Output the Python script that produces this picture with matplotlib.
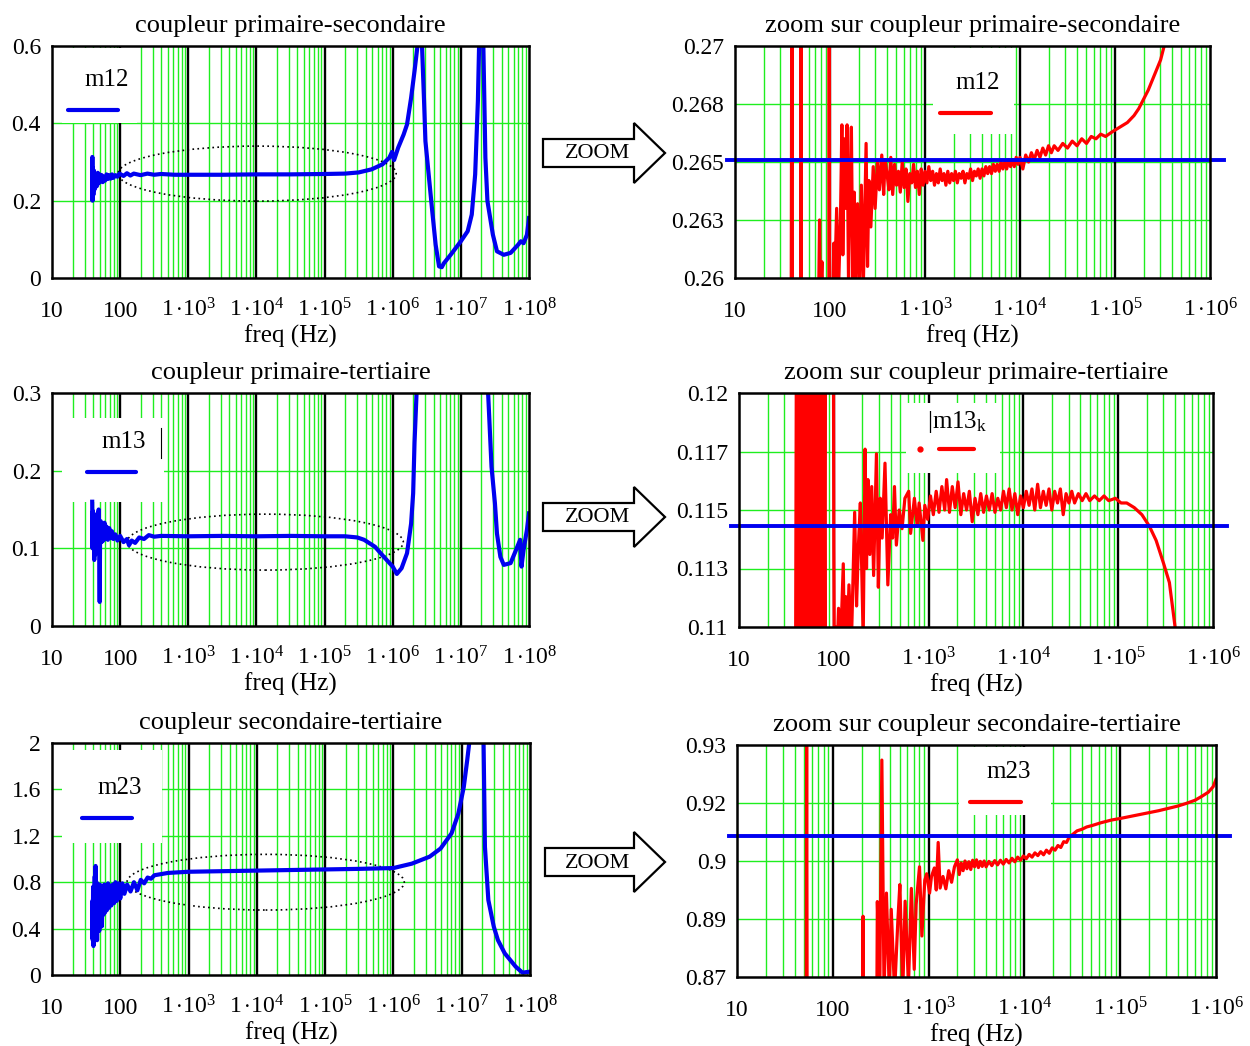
import matplotlib
matplotlib.use("Agg")
import matplotlib.pyplot as plt
from matplotlib.patches import Ellipse, Rectangle, Polygon
from matplotlib.ticker import NullLocator
import numpy as np

plt.rcParams["font.family"] = ["Liberation Serif", "DejaVu Serif"]
plt.rcParams["mathtext.fontset"] = "custom"
plt.rcParams["mathtext.rm"] = "Liberation Serif"
plt.rcParams["mathtext.it"] = "Liberation Serif:italic"

GREEN = "#1fee1f"
BLUE = "#0000f0"
RED = "#ff0000"

# ---- data : log10(freq) and coupling values -------------------------------
# m12, full range (left)
m12_logf = [1.590, 1.592, 1.595, 1.600, 1.607, 1.615, 1.622, 1.630, 1.640, 1.650,
            1.660, 1.672, 1.685, 1.700, 1.715, 1.730, 1.745, 1.760, 1.780, 1.800,
            1.820, 1.840, 1.860, 1.880, 1.900, 1.930, 1.960, 1.990, 2.050, 2.100,
            2.150, 2.200, 2.300, 2.400, 2.500, 2.600, 2.800, 3.000, 3.500, 4.000,
            4.500, 5.000, 5.300, 5.500, 5.690, 5.850, 5.950, 5.990, 6.020, 6.080,
            6.160, 6.210, 6.270, 6.320, 6.370, 6.400, 6.430, 6.460, 6.480, 6.580,
            6.630, 6.680, 6.720, 6.750, 6.850, 7.000, 7.100, 7.160, 7.210, 7.250,
            7.270, 7.290, 7.310, 7.330, 7.360, 7.390, 7.470, 7.530, 7.630, 7.730,
            7.840, 7.880, 7.920, 7.970, 8.000]
m12 = [0.205, 0.313, 0.200, 0.285, 0.215, 0.278, 0.228, 0.270, 0.235, 0.262,
       0.238, 0.272, 0.245, 0.268, 0.250, 0.266, 0.248, 0.262, 0.252, 0.268,
       0.256, 0.266, 0.257, 0.268, 0.259, 0.266, 0.262, 0.270, 0.264, 0.271,
       0.265, 0.270, 0.266, 0.270, 0.267, 0.269, 0.267, 0.267, 0.267, 0.268,
       0.268, 0.269, 0.270, 0.273, 0.281, 0.294, 0.311, 0.326, 0.305, 0.337,
       0.371, 0.397, 0.466, 0.535, 0.610, 0.760, 0.600, 0.458, 0.354, 0.173,
       0.086, 0.030, 0.028, 0.038, 0.060, 0.095, 0.121, 0.164, 0.268, 0.458,
       0.620, 0.900, 0.880, 0.600, 0.311, 0.199, 0.112, 0.069, 0.060, 0.065,
       0.086, 0.095, 0.090, 0.112, 0.155]

# m13, full range (left)
m13_logf = [1.590, 1.595, 1.600, 1.606, 1.612, 1.620, 1.628, 1.636, 1.645, 1.655,
            1.665, 1.675, 1.685, 1.695, 1.700, 1.705, 1.715, 1.728, 1.740, 1.755,
            1.770, 1.785, 1.800, 1.820, 1.840, 1.860, 1.880, 1.900, 1.930, 1.960,
            2.000, 2.050, 2.100, 2.130, 2.170, 2.220, 2.280, 2.350, 2.420, 2.500,
            2.600, 3.000, 3.500, 4.000, 4.500, 5.000, 5.300, 5.480, 5.580, 5.740,
            5.870, 6.000, 6.060, 6.130, 6.210, 6.270, 6.300, 6.320, 6.350, 6.400,
            6.500, 7.300, 7.380, 7.400, 7.450, 7.500, 7.530, 7.580, 7.630, 7.730,
            7.810, 7.870, 7.890, 7.920, 7.970, 8.000]
m13 = [0.160, 0.100, 0.148, 0.105, 0.140, 0.085, 0.130, 0.092, 0.120, 0.100,
       0.145, 0.102, 0.150, 0.095, 0.031, 0.110, 0.135, 0.108, 0.130, 0.110,
       0.133, 0.112, 0.128, 0.111, 0.126, 0.113, 0.122, 0.112, 0.118, 0.110,
       0.116, 0.108, 0.112, 0.104, 0.110, 0.107, 0.114, 0.112, 0.117, 0.115,
       0.116, 0.1155, 0.116, 0.1155, 0.116, 0.1155, 0.1155, 0.114, 0.111, 0.102,
       0.089, 0.0765, 0.067, 0.0744, 0.0937, 0.132, 0.171, 0.236, 0.300, 0.450,
       0.600, 0.600, 0.400, 0.300, 0.205, 0.158, 0.119, 0.089, 0.0787, 0.081,
       0.098, 0.111, 0.0765, 0.098, 0.124, 0.145]

# m23, full range (left)
m23_logf = [1.590, 1.593, 1.597, 1.602, 1.607, 1.613, 1.620, 1.626, 1.632, 1.638,
            1.645, 1.652, 1.660, 1.668, 1.676, 1.684, 1.692, 1.700, 1.710, 1.720,
            1.730, 1.742, 1.754, 1.766, 1.778, 1.790, 1.805, 1.820, 1.835, 1.850,
            1.870, 1.890, 1.910, 1.930, 1.950, 1.975, 2.000, 2.030, 2.060, 2.100,
            2.150, 2.200, 2.250, 2.300, 2.350, 2.400, 2.450, 2.500, 2.600, 2.700,
            2.850, 3.000, 3.500, 4.000, 4.500, 5.000, 5.500, 6.000, 6.270, 6.530,
            6.690, 6.850, 6.950, 7.030, 7.080, 7.110, 7.150, 7.300, 7.320, 7.340,
            7.390, 7.470, 7.530, 7.630, 7.790, 7.890, 7.950, 8.000]
m23 = [0.330, 0.640, 0.300, 0.760, 0.250, 0.720, 0.400, 0.850, 0.330, 0.940,
       0.420, 0.800, 0.300, 0.760, 0.450, 0.720, 0.380, 0.780, 0.500, 0.740,
       0.420, 0.760, 0.520, 0.780, 0.540, 0.760, 0.560, 0.790, 0.580, 0.770,
       0.600, 0.780, 0.620, 0.800, 0.640, 0.790, 0.660, 0.790, 0.700, 0.780,
       0.720, 0.800, 0.730, 0.820, 0.790, 0.840, 0.830, 0.860, 0.870, 0.880,
       0.885, 0.890, 0.895, 0.900, 0.905, 0.910, 0.915, 0.922, 0.960, 1.020,
       1.090, 1.220, 1.390, 1.620, 1.850, 2.000, 2.300, 2.300, 2.000, 1.105,
       0.646, 0.416, 0.301, 0.187, 0.072, 0.020, 0.025, 0.029]

# m12, detail up to 1 MHz (right)
m12z_logf = [1.590, 1.601, 1.605, 1.690, 1.694, 1.698, 1.880, 1.890, 1.897, 1.915,
             1.925, 1.988, 1.992, 1.996, 2.030, 2.040, 2.050, 2.070, 2.090, 2.110,
             2.125, 2.135, 2.150, 2.165, 2.180, 2.195, 2.210, 2.225, 2.240, 2.255,
             2.270, 2.290, 2.310, 2.330, 2.350, 2.380, 2.395, 2.410, 2.430, 2.455,
             2.475, 2.500, 2.520, 2.545, 2.565, 2.580, 2.600, 2.620, 2.640, 2.660,
             2.680, 2.700, 2.720, 2.740, 2.760, 2.780, 2.800, 2.820, 2.840, 2.860,
             2.880, 2.900, 2.920, 2.940, 2.960, 2.980, 3.000, 3.020, 3.040, 3.060,
             3.080, 3.100, 3.120, 3.140, 3.160, 3.180, 3.200, 3.220, 3.240, 3.260,
             3.280, 3.300, 3.320, 3.340, 3.360, 3.380, 3.400, 3.420, 3.440, 3.460,
             3.480, 3.500, 3.520, 3.540, 3.560, 3.580, 3.600, 3.620, 3.640, 3.660,
             3.680, 3.700, 3.720, 3.740, 3.760, 3.780, 3.800, 3.820, 3.840, 3.860,
             3.880, 3.900, 3.920, 3.940, 3.960, 3.980, 4.000, 4.030, 4.060, 4.090,
             4.120, 4.150, 4.180, 4.210, 4.240, 4.270, 4.300, 4.330, 4.360, 4.400,
             4.450, 4.500, 4.550, 4.600, 4.650, 4.700, 4.750, 4.800, 4.850, 4.900,
             4.970, 5.050, 5.130, 5.200, 5.250, 5.300, 5.350, 5.410, 5.480, 5.530,
             5.560]
m12z = [0.2550, 0.2800, 0.2550, 0.2550, 0.2800, 0.2550, 0.2590, 0.2625, 0.2590, 0.2607,
        0.2590, 0.2550, 0.2800, 0.2550, 0.2590, 0.2615, 0.2598, 0.2630, 0.2595, 0.2625,
        0.2666, 0.2610, 0.2660, 0.2630, 0.2666, 0.2598, 0.2640, 0.2665, 0.2600, 0.2637,
        0.2595, 0.2632, 0.2598, 0.2640, 0.2595, 0.2658, 0.2605, 0.2642, 0.2622, 0.2648,
        0.2630, 0.2650, 0.2638, 0.2653, 0.2636, 0.2651, 0.2645, 0.2638, 0.2652, 0.2636,
        0.2649, 0.2640, 0.2646, 0.2637, 0.2650, 0.2639, 0.2647, 0.2633, 0.2645, 0.2641,
        0.2649, 0.2639, 0.2646, 0.2636, 0.2647, 0.2640, 0.2646, 0.2641, 0.2648, 0.2642,
        0.2646, 0.2640, 0.2645, 0.2641, 0.2647, 0.2642, 0.2645, 0.2640, 0.2646, 0.2641,
        0.2645, 0.2642, 0.2646, 0.2641, 0.2645, 0.2643, 0.2646, 0.2641, 0.2645, 0.2643,
        0.2647, 0.2642, 0.2646, 0.2644, 0.2647, 0.2643, 0.2647, 0.2644, 0.2648, 0.2645,
        0.2648, 0.2645, 0.2649, 0.2646, 0.2649, 0.2646, 0.2650, 0.2647, 0.2650, 0.2647,
        0.2651, 0.2648, 0.2651, 0.2648, 0.2652, 0.2649, 0.2652, 0.2647, 0.2653, 0.2650,
        0.2654, 0.2651, 0.2655, 0.2652, 0.2656, 0.2653, 0.2657, 0.2654, 0.2657, 0.2655,
        0.2658, 0.2656, 0.2659, 0.2657, 0.2660, 0.2658, 0.2661, 0.2660, 0.2662, 0.2661,
        0.2663, 0.2665, 0.2667, 0.2670, 0.2673, 0.2677, 0.2681, 0.2687, 0.2694, 0.2702,
        0.2710]

# m13, detail up to 1 MHz (right)
m13z_logf = [1.595, 1.607, 1.619, 1.631, 1.643, 1.655, 1.667, 1.679, 1.691, 1.703,
             1.715, 1.727, 1.739, 1.751, 1.763, 1.775, 1.787, 1.799, 1.811, 1.823,
             1.835, 1.847, 1.859, 1.871, 1.883, 1.895, 1.907, 1.913, 1.995, 2.000,
             2.005, 2.020, 2.035, 2.050, 2.070, 2.100, 2.110, 2.125, 2.140, 2.160,
             2.180, 2.190, 2.220, 2.240, 2.260, 2.280, 2.300, 2.310, 2.330, 2.345,
             2.360, 2.380, 2.400, 2.420, 2.450, 2.470, 2.490, 2.510, 2.540, 2.570,
             2.600, 2.620, 2.640, 2.660, 2.690, 2.720, 2.750, 2.790, 2.810, 2.850,
             2.880, 2.900, 2.940, 2.960, 2.990, 3.020, 3.050, 3.080, 3.110, 3.140,
             3.170, 3.190, 3.220, 3.250, 3.280, 3.310, 3.340, 3.370, 3.400, 3.430,
             3.460, 3.490, 3.520, 3.550, 3.580, 3.610, 3.640, 3.670, 3.700, 3.730,
             3.760, 3.790, 3.820, 3.850, 3.880, 3.910, 3.940, 3.970, 4.000, 4.030,
             4.060, 4.090, 4.120, 4.150, 4.180, 4.210, 4.240, 4.270, 4.300, 4.330,
             4.360, 4.390, 4.420, 4.450, 4.480, 4.510, 4.540, 4.580, 4.620, 4.660,
             4.700, 4.750, 4.800, 4.850, 4.900, 4.970, 5.030, 5.090, 5.170, 5.250,
             5.330, 5.400, 5.480, 5.540, 5.600, 5.620]
m13z = [0.105, 0.125, 0.105, 0.125, 0.105, 0.125, 0.105, 0.125, 0.105, 0.125,
        0.105, 0.125, 0.105, 0.125, 0.105, 0.125, 0.105, 0.125, 0.105, 0.125,
        0.105, 0.125, 0.105, 0.125, 0.105, 0.125, 0.105, 0.125, 0.125, 0.1134,
        0.1090, 0.1100, 0.1090, 0.1108, 0.1090, 0.1127, 0.1095, 0.1113, 0.1092, 0.1118,
        0.1096, 0.1100, 0.1149, 0.1109, 0.1135, 0.1153, 0.1115, 0.1095, 0.1176, 0.1125,
        0.1163, 0.1131, 0.1160, 0.1122, 0.1174, 0.1117, 0.1155, 0.1138, 0.1170, 0.1118,
        0.1148, 0.1138, 0.1160, 0.1135, 0.1150, 0.1142, 0.1155, 0.1158, 0.1140, 0.1155,
        0.1143, 0.1153, 0.1137, 0.1152, 0.1146, 0.1156, 0.1148, 0.1158, 0.1149, 0.1160,
        0.1150, 0.1163, 0.1149, 0.1160, 0.1151, 0.1162, 0.1148, 0.1157, 0.1150, 0.1158,
        0.1145, 0.1155, 0.1148, 0.1157, 0.1149, 0.1156, 0.1150, 0.1157, 0.1149, 0.1155,
        0.1150, 0.1158, 0.1151, 0.1159, 0.1150, 0.1157, 0.1148, 0.1156, 0.1151, 0.1158,
        0.1152, 0.1159, 0.1150, 0.1161, 0.1151, 0.1158, 0.1152, 0.1159, 0.1150, 0.1158,
        0.1153, 0.1159, 0.1148, 0.1157, 0.1153, 0.1158, 0.1153, 0.1157, 0.1154, 0.1157,
        0.1154, 0.1156, 0.1154, 0.1156, 0.1154, 0.1155, 0.1153, 0.1153, 0.1151, 0.1148,
        0.1143, 0.1137, 0.1127, 0.1119, 0.1100, 0.1090]

# m23, detail up to 1 MHz (right)
m23z_logf = [1.600, 1.722, 1.727, 1.732, 2.312, 2.316, 2.320, 2.460, 2.465, 2.490,
             2.512, 2.535, 2.560, 2.590, 2.610, 2.645, 2.680, 2.700, 2.730, 2.755,
             2.790, 2.820, 2.850, 2.870, 2.905, 2.930, 2.960, 2.980, 3.010, 3.030,
             3.060, 3.080, 3.100, 3.120, 3.150, 3.180, 3.210, 3.240, 3.270, 3.300,
             3.320, 3.340, 3.360, 3.380, 3.400, 3.420, 3.440, 3.460, 3.480, 3.500,
             3.520, 3.540, 3.560, 3.580, 3.600, 3.630, 3.660, 3.690, 3.720, 3.750,
             3.780, 3.810, 3.840, 3.870, 3.900, 3.930, 3.960, 3.990, 4.020, 4.050,
             4.080, 4.110, 4.140, 4.170, 4.200, 4.230, 4.260, 4.290, 4.320, 4.350,
             4.380, 4.410, 4.440, 4.470, 4.500, 4.550, 4.600, 4.650, 4.710, 4.800,
             4.910, 5.000, 5.100, 5.200, 5.300, 5.400, 5.500, 5.600, 5.690, 5.780,
             5.850, 5.920, 5.970, 6.000]
m23z = [0.8600, 0.8600, 0.9400, 0.8600, 0.8600, 0.8857, 0.8600, 0.8650, 0.8895, 0.8660,
        0.9261, 0.8660, 0.8917, 0.8660, 0.8875, 0.8660, 0.8850, 0.8939, 0.8660, 0.8896,
        0.8680, 0.8929, 0.8720, 0.8888, 0.8985, 0.8806, 0.8950, 0.8967, 0.8917, 0.8960,
        0.8982, 0.8925, 0.9048, 0.8930, 0.8960, 0.8928, 0.8975, 0.8945, 0.8985, 0.9003,
        0.8965, 0.8995, 0.8975, 0.9000, 0.8980, 0.8998, 0.8978, 0.9002, 0.8985, 0.9003,
        0.8983, 0.8999, 0.8986, 0.9000, 0.8985, 0.8999, 0.8988, 0.9001, 0.8990, 0.9002,
        0.8992, 0.9004, 0.8995, 0.9007, 0.8998, 0.9010, 0.9002, 0.9013, 0.9006, 0.9017,
        0.9010, 0.9021, 0.9014, 0.9024, 0.9016, 0.9028, 0.9020, 0.9034, 0.9028, 0.9040,
        0.9035, 0.9050, 0.9048, 0.9063, 0.9068, 0.9078, 0.9082, 0.9088, 0.9092, 0.9099,
        0.9106, 0.9110, 0.9115, 0.9120, 0.9125, 0.9130, 0.9136, 0.9142, 0.9149, 0.9157,
        0.9167, 0.9178, 0.9192, 0.9211]

# reference coupling values (horizontal lines of the zooms)
k12, k13, k23 = 0.2651, 0.1143, 0.9065

W, H = 1250, 1046
fig = plt.figure(figsize=(W / 100, H / 100), dpi=100)
fig.patch.set_facecolor("white")


def px_axes(x0, y0, x1, y1):
    return fig.add_axes([x0 / W, 1 - y1 / H, (x1 - x0) / W, (y1 - y0) / H])


def decade_label(d):
    if d == 1:
        return "10"
    if d == 2:
        return "100"
    return r"$1\,{\cdot}10^{%d}$" % d


def draw_panel(ax, logf, vals, color, lw, ndec, ylim, yticks, ylabels, title):
    ax.set_xscale("log")
    ax.set_xlim(10, 10 ** ndec)
    ax.set_ylim(*ylim)
    for d in range(1, ndec):
        for k in range(2, 10):
            ax.axvline(k * 10 ** d, color=GREEN, lw=1.0, zorder=1)
        if d > 1:
            ax.axvline(10 ** d, color="black", lw=1.7, zorder=1.5)
    for y in yticks[1:-1]:
        ax.axhline(y, color=GREEN, lw=1.0, zorder=1)
    ax.plot(10 ** np.array(logf), vals, color=color, lw=lw, zorder=3)

    ax.set_xticks([10 ** d for d in range(1, ndec + 1)])
    ax.set_xticklabels([decade_label(d) for d in range(1, ndec + 1)])
    ax.xaxis.set_minor_locator(NullLocator())
    ax.set_yticks(yticks)
    ax.set_yticklabels(ylabels)
    ax.tick_params(axis="both", length=0, labelsize=17)
    ax.tick_params(axis="x", pad=28)
    ax.tick_params(axis="y", pad=8)
    for lab in ax.get_xticklabels():
        lab.set_verticalalignment("baseline")
    for sp in ax.spines.values():
        sp.set_linewidth(1.8)
        sp.set_zorder(4)

    ax.annotate(title, (0.5, 1), xycoords="axes fraction", xytext=(0, 10),
                textcoords="offset points", ha="center", va="baseline",
                fontsize=19)
    ax.annotate("freq (Hz)", (0.5, 0), xycoords="axes fraction",
                xytext=(0, -42), textcoords="offset points",
                ha="center", va="center", fontsize=18)


def legend_box(ax, box, label, txt, line_x, line_y, color):
    x0, y0, x1, y1 = box
    ax.add_patch(Rectangle((x0, y0), x1 - x0, y1 - y0, transform=ax.transAxes,
                           facecolor="white", edgecolor="none", zorder=2))
    ax.text(txt[0], txt[1], label, transform=ax.transAxes, ha="center",
            va="center", fontsize=18, zorder=4)
    ax.plot(line_x, [line_y, line_y], transform=ax.transAxes, color=color,
            lw=3.0, zorder=4, solid_capstyle="round")


def zoom_ellipse(ax, cx, cy, w, h):
    ax.add_patch(Ellipse((cx, cy), w, h, transform=ax.transAxes, fill=False,
                         edgecolor="black", lw=1.2, linestyle=(0, (1, 2)),
                         zorder=2.5))


# ---- left column : full range -------------------------------------------
ax1 = px_axes(52, 46, 529, 278)
draw_panel(ax1, m12_logf, m12, BLUE, 3.0, 8, (0, 0.6), [0, 0.2, 0.4, 0.6],
           ["0", "0.2", "0.4", "0.6"], "coupleur primaire-secondaire")
legend_box(ax1, (0.021, 0.668, 0.178, 0.992), "m12", (0.115, 0.853),
           [0.034, 0.138], 0.724, BLUE)
zoom_ellipse(ax1, 0.43, 0.45, 0.583, 0.237)

ax3 = px_axes(52, 393, 529, 626)
draw_panel(ax3, m13_logf, m13, BLUE, 3.0, 8, (0, 0.3), [0, 0.1, 0.2, 0.3],
           ["0", "0.1", "0.2", "0.3"], "coupleur primaire-tertiaire")
legend_box(ax3, (0.021, 0.532, 0.235, 0.893), "m13", (0.151, 0.79),
           [0.074, 0.176], 0.661, BLUE)
ax3.plot([0.229, 0.229], [0.72, 0.85], transform=ax3.transAxes,
         color="black", lw=0.8, zorder=4)
zoom_ellipse(ax3, 0.447, 0.36, 0.579, 0.24)

ax5 = px_axes(52, 743, 530, 975)
draw_panel(ax5, m23_logf, m23, BLUE, 3.0, 8, (0, 2),
           [0, 0.4, 0.8, 1.2, 1.6, 2], ["0", "0.4", "0.8", "1.2", "1.6", "2"],
           "coupleur secondaire-tertiaire")
legend_box(ax5, (0.021, 0.569, 0.231, 0.97), "m23", (0.142, 0.806),
           [0.063, 0.168], 0.677, BLUE)
zoom_ellipse(ax5, 0.447, 0.40, 0.58, 0.24)

# ---- right column : zoom -------------------------------------------------
ax2 = px_axes(735, 46, 1210, 278)
draw_panel(ax2, m12z_logf, m12z, RED, 2.3, 6, (0.26, 0.27),
           [0.26, 0.2625, 0.265, 0.2675, 0.27],
           ["0.26", "0.263", "0.265", "0.268", "0.27"],
           "zoom sur coupleur primaire-secondaire")
legend_box(ax2, (0.417, 0.621, 0.587, 0.992), "m12", (0.512, 0.84),
           [0.432, 0.539], 0.711, RED)
ax2.axhline(k12, xmin=-0.017, xmax=1.03, color=BLUE, lw=2.8, zorder=3.5,
            clip_on=False)

ax4 = px_axes(739, 393, 1213, 627)
draw_panel(ax4, m13z_logf, m13z, RED, 2.3, 6, (0.11, 0.12),
           [0.11, 0.1125, 0.115, 0.1175, 0.12],
           ["0.11", "0.113", "0.115", "0.117", "0.12"],
           "zoom sur coupleur primaire-tertiaire")
legend_box(ax4, (0.352, 0.658, 0.551, 0.957), r"|m13$_\mathregular{k}$",
           (0.46, 0.875), [0.422, 0.496], 0.761, RED)
ax4.plot([0.382], [0.761], "o", ms=3.5, color=RED, transform=ax4.transAxes,
         zorder=4)
ax4.axhline(k13, xmin=-0.017, xmax=1.03, color=BLUE, lw=2.8, zorder=3.5,
            clip_on=False)

ax6 = px_axes(737, 745, 1216, 977)
draw_panel(ax6, m23z_logf, m23z, RED, 2.3, 6, (0.87, 0.93),
           [0.87, 0.885, 0.9, 0.915, 0.93],
           ["0.87", "0.89", "0.9", "0.92", "0.93"],
           "zoom sur coupleur secondaire-tertiaire")
legend_box(ax6, (0.463, 0.698, 0.656, 0.992), "m23", (0.568, 0.884),
           [0.486, 0.593], 0.754, RED)
ax6.axhline(k23, xmin=-0.017, xmax=1.03, color=BLUE, lw=2.8, zorder=3.5,
            clip_on=False)

# ---- ZOOM arrows ---------------------------------------------------------
ov = fig.add_axes([0, 0, 1, 1])
ov.set_xlim(0, W)
ov.set_ylim(H, 0)
ov.set_axis_off()
for x0, cy in [(543, 153), (543, 517), (545, 862)]:
    pts = [(x0, cy - 14), (634, cy - 14), (634, cy - 30), (665, cy),
           (634, cy + 30), (634, cy + 14), (x0, cy + 14)]
    ov.add_patch(Polygon(pts, closed=True, facecolor="white",
                         edgecolor="black", lw=1.6))
    ov.text(598, cy + 1, "ZOOM", ha="center", va="center", fontsize=16)

fig.savefig("out.png", dpi=100)
